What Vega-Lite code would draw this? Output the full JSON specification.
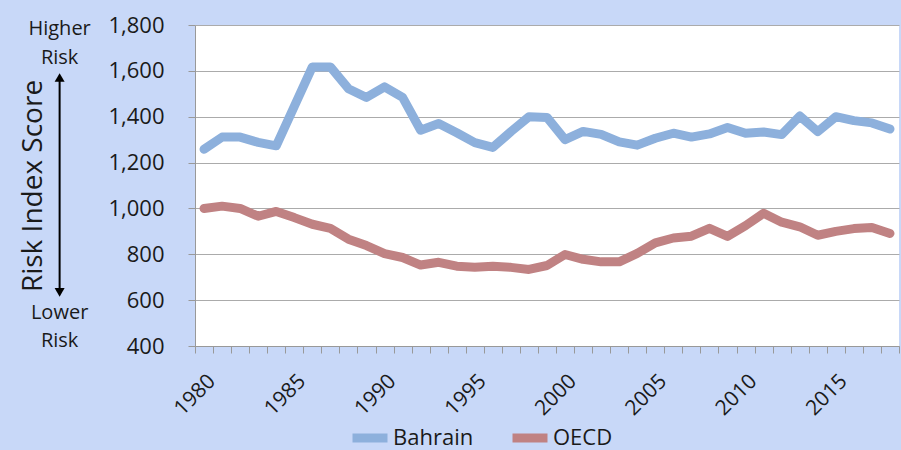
{
  "$schema": "https://vega.github.io/schema/vega-lite/v6.json",
  "width": 704,
  "height": 321,
  "autosize": "none",
  "padding": {"left": 195, "top": 25, "right": 2, "bottom": 104},
  "background": "#C8D8F8",
  "config": {
    "view": {"fill": "white", "stroke": null},
    "font": "Open Sans",
    "axis": {"labelFont": "Open Sans", "titleFont": "Open Sans"},
    "axisY": {
      "values": [400, 600, 800, 1000, 1200, 1400, 1600, 1800],
      "labelExpr": "format(datum.value, ',')",
      "labelFontSize": 22, "labelColor": "#1a1a1a", "labelPadding": 24,
      "tickSize": 7, "tickColor": "#999999", "domainColor": "#999999",
      "grid": true, "gridColor": "#ABABAB", "gridWidth": 1.2,
      "titleFontSize": 28, "titleFontWeight": "normal",
      "titleColor": "#1a1a1a", "titlePadding": 60
    },
    "legend": {"labelFont": "Open Sans"}
  },
  "datasets": {
    "series": [
      {"year": 1980, "series": "Bahrain", "score": 1258},
      {"year": 1981, "series": "Bahrain", "score": 1311},
      {"year": 1982, "series": "Bahrain", "score": 1311},
      {"year": 1983, "series": "Bahrain", "score": 1288},
      {"year": 1984, "series": "Bahrain", "score": 1273},
      {"year": 1985, "series": "Bahrain", "score": 1445},
      {"year": 1986, "series": "Bahrain", "score": 1617},
      {"year": 1987, "series": "Bahrain", "score": 1617},
      {"year": 1988, "series": "Bahrain", "score": 1522},
      {"year": 1989, "series": "Bahrain", "score": 1484},
      {"year": 1990, "series": "Bahrain", "score": 1530},
      {"year": 1991, "series": "Bahrain", "score": 1484},
      {"year": 1992, "series": "Bahrain", "score": 1341},
      {"year": 1993, "series": "Bahrain", "score": 1370},
      {"year": 1994, "series": "Bahrain", "score": 1330},
      {"year": 1995, "series": "Bahrain", "score": 1287},
      {"year": 1996, "series": "Bahrain", "score": 1266},
      {"year": 1997, "series": "Bahrain", "score": 1335},
      {"year": 1998, "series": "Bahrain", "score": 1400},
      {"year": 1999, "series": "Bahrain", "score": 1397},
      {"year": 2000, "series": "Bahrain", "score": 1300},
      {"year": 2001, "series": "Bahrain", "score": 1336},
      {"year": 2002, "series": "Bahrain", "score": 1323},
      {"year": 2003, "series": "Bahrain", "score": 1290},
      {"year": 2004, "series": "Bahrain", "score": 1276},
      {"year": 2005, "series": "Bahrain", "score": 1306},
      {"year": 2006, "series": "Bahrain", "score": 1328},
      {"year": 2007, "series": "Bahrain", "score": 1311},
      {"year": 2008, "series": "Bahrain", "score": 1325},
      {"year": 2009, "series": "Bahrain", "score": 1353},
      {"year": 2010, "series": "Bahrain", "score": 1328},
      {"year": 2011, "series": "Bahrain", "score": 1333},
      {"year": 2012, "series": "Bahrain", "score": 1322},
      {"year": 2013, "series": "Bahrain", "score": 1403},
      {"year": 2014, "series": "Bahrain", "score": 1335},
      {"year": 2015, "series": "Bahrain", "score": 1400},
      {"year": 2016, "series": "Bahrain", "score": 1383},
      {"year": 2017, "series": "Bahrain", "score": 1373},
      {"year": 2018, "series": "Bahrain", "score": 1346},
      {"year": 1980, "series": "OECD", "score": 1000},
      {"year": 1981, "series": "OECD", "score": 1010},
      {"year": 1982, "series": "OECD", "score": 1000},
      {"year": 1983, "series": "OECD", "score": 966},
      {"year": 1984, "series": "OECD", "score": 987},
      {"year": 1985, "series": "OECD", "score": 960},
      {"year": 1986, "series": "OECD", "score": 931},
      {"year": 1987, "series": "OECD", "score": 913},
      {"year": 1988, "series": "OECD", "score": 866},
      {"year": 1989, "series": "OECD", "score": 838},
      {"year": 1990, "series": "OECD", "score": 803},
      {"year": 1991, "series": "OECD", "score": 786},
      {"year": 1992, "series": "OECD", "score": 753},
      {"year": 1993, "series": "OECD", "score": 765},
      {"year": 1994, "series": "OECD", "score": 748},
      {"year": 1995, "series": "OECD", "score": 743},
      {"year": 1996, "series": "OECD", "score": 748},
      {"year": 1997, "series": "OECD", "score": 743},
      {"year": 1998, "series": "OECD", "score": 734},
      {"year": 1999, "series": "OECD", "score": 751},
      {"year": 2000, "series": "OECD", "score": 799},
      {"year": 2001, "series": "OECD", "score": 778},
      {"year": 2002, "series": "OECD", "score": 767},
      {"year": 2003, "series": "OECD", "score": 767},
      {"year": 2004, "series": "OECD", "score": 804},
      {"year": 2005, "series": "OECD", "score": 850},
      {"year": 2006, "series": "OECD", "score": 871},
      {"year": 2007, "series": "OECD", "score": 879},
      {"year": 2008, "series": "OECD", "score": 913},
      {"year": 2009, "series": "OECD", "score": 878},
      {"year": 2010, "series": "OECD", "score": 925},
      {"year": 2011, "series": "OECD", "score": 979},
      {"year": 2012, "series": "OECD", "score": 940},
      {"year": 2013, "series": "OECD", "score": 920},
      {"year": 2014, "series": "OECD", "score": 883},
      {"year": 2015, "series": "OECD", "score": 900},
      {"year": 2016, "series": "OECD", "score": 912},
      {"year": 2017, "series": "OECD", "score": 917},
      {"year": 2018, "series": "OECD", "score": 891}
    ],
    "notes": [
      {"label": "Higher", "year": 1972, "score": 1783},
      {"label": "Risk", "year": 1972, "score": 1658},
      {"label": "Lower", "year": 1972, "score": 544},
      {"label": "Risk", "year": 1972, "score": 422}
    ],
    "arrow": [
      {"year": 1972, "score": 1571, "low": 634}
    ]
  },
  "resolve": {"axis": {"x": "independent"}},
  "layer": [
    {
      "data": {"name": "series"},
      "mark": {"type": "line", "strokeWidth": 9, "strokeJoin": "round", "strokeCap": "round"},
      "encoding": {
        "x": {
          "field": "year", "type": "quantitative",
          "scale": {"domain": [1979.5, 2018.5], "nice": false, "zero": false},
          "axis": {
            "values": [1980, 1985, 1990, 1995, 2000, 2005, 2010, 2015],
            "format": "d", "labelAngle": -45, "labelFontSize": 21, "labelColor": "#1a1a1a",
            "labelPadding": 24, "ticks": false, "grid": false, "domain": false, "title": null
          }
        },
        "y": {
          "field": "score", "type": "quantitative",
          "scale": {"domain": [400, 1800], "nice": false, "zero": false},
          "title": "Risk Index Score"
        },
        "color": {
          "field": "series", "type": "nominal",
          "scale": {"domain": ["Bahrain", "OECD"], "range": ["#8DB0DC", "#C08283"]},
          "legend": {
            "title": null, "orient": "none", "legendX": 153, "legendY": 391, "direction": "horizontal",
            "symbolType": "stroke", "symbolStrokeWidth": 9, "symbolSize": 1225,
            "labelFontSize": 22, "labelColor": "#1a1a1a", "labelOffset": 1,
            "columnPadding": 20
          }
        }
      }
    },
    {
      "data": {"name": "notes"},
      "mark": {"type": "text", "fontSize": 20, "color": "#1a1a1a", "baseline": "middle", "align": "center"},
      "encoding": {
        "x": {
          "field": "year", "type": "quantitative",
          "scale": {"domain": [1979.5, 2018.5], "nice": false, "zero": false},
          "axis": {
            "values": [1979.5, 1980.5, 1981.5, 1982.5, 1983.5, 1984.5, 1985.5, 1986.5, 1987.5, 1988.5, 1989.5, 1990.5, 1991.5, 1992.5, 1993.5, 1994.5, 1995.5, 1996.5, 1997.5, 1998.5, 1999.5, 2000.5, 2001.5, 2002.5, 2003.5, 2004.5, 2005.5, 2006.5, 2007.5, 2008.5, 2009.5, 2010.5, 2011.5, 2012.5, 2013.5, 2014.5, 2015.5, 2016.5, 2017.5, 2018.5],
            "orient": "bottom", "labels": false, "ticks": true, "tickSize": 7, "tickColor": "#999999",
            "domain": true, "domainColor": "#999999", "grid": false, "title": null
          }
        },
        "y": {
          "field": "score", "type": "quantitative",
          "scale": {"domain": [400, 1800], "nice": false, "zero": false},
          "title": "Risk Index Score"
        },
        "text": {"field": "label"}
      }
    },
    {
      "data": {"name": "arrow"},
      "mark": {"type": "rule", "strokeWidth": 2, "color": "#000000"},
      "encoding": {
        "x": {"field": "year", "type": "quantitative", "scale": {"domain": [1979.5, 2018.5], "nice": false, "zero": false}, "axis": null},
        "y": {"field": "score", "type": "quantitative", "scale": {"domain": [400, 1800], "nice": false, "zero": false}, "title": "Risk Index Score"},
        "y2": {"field": "low"}
      }
    },
    {
      "data": {"name": "arrow"},
      "mark": {"type": "point", "shape": "triangle-up", "size": 100, "filled": true, "color": "#000000", "opacity": 1},
      "encoding": {
        "x": {"field": "year", "type": "quantitative", "scale": {"domain": [1979.5, 2018.5], "nice": false, "zero": false}, "axis": null},
        "y": {"field": "score", "type": "quantitative", "scale": {"domain": [400, 1800], "nice": false, "zero": false}, "title": "Risk Index Score"}
      }
    },
    {
      "data": {"name": "arrow"},
      "mark": {"type": "point", "shape": "triangle-down", "size": 100, "filled": true, "color": "#000000", "opacity": 1},
      "encoding": {
        "x": {"field": "year", "type": "quantitative", "scale": {"domain": [1979.5, 2018.5], "nice": false, "zero": false}, "axis": null},
        "y": {"field": "low", "type": "quantitative", "scale": {"domain": [400, 1800], "nice": false, "zero": false}, "title": "Risk Index Score"}
      }
    }
  ]
}
